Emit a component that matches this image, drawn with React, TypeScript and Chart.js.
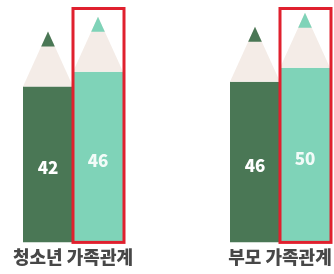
import React, { useEffect, useRef } from 'react';
import { Chart, registerables } from 'chart.js';

Chart.register(...registerables);

const categories = ['청소년 가족관계', '부모 가족관계'];
const seriesDark = [42, 46];
const seriesMint = [46, 50];
const yMaxes = [64, 68];

const DARK = '#4a7755';
const MINT = '#7fd3b8';
const CREAM = '#f4ece7';
const RED = '#e0202e';

const pencilPlugin = {
  id: 'pencil',
  afterDatasetsDraw(chart: any) {
    const ctx = chart.ctx;
    chart.data.datasets.forEach((ds: any, di: number) => {
      const meta = chart.getDatasetMeta(di);
      meta.data.forEach((bar: any, i: number) => {
        const { x, y, base, width } = bar.getProps(['x', 'y', 'base', 'width'], true);
        const tipH = 55;
        const nib = 15;
        ctx.save();
        ctx.fillStyle = CREAM;
        ctx.beginPath();
        ctx.moveTo(x - width / 2, y);
        ctx.lineTo(x + width / 2, y);
        ctx.lineTo(x, y - tipH);
        ctx.closePath();
        ctx.fill();
        const nw = (width * nib) / tipH / 2;
        ctx.fillStyle = ds.backgroundColor;
        ctx.beginPath();
        ctx.moveTo(x - nw, y - tipH + nib);
        ctx.lineTo(x + nw, y - tipH + nib);
        ctx.lineTo(x, y - tipH);
        ctx.closePath();
        ctx.fill();
        ctx.fillStyle = di === 0 ? '#ffffff' : '#f2fbf8';
        ctx.font = '900 17px "Noto Sans CJK KR", "Noto Sans", sans-serif';
        ctx.textAlign = 'center';
        ctx.textBaseline = 'middle';
        ctx.fillText(String(ds.data[i]), x, (y + base) / 2 + 3);
        if (di === 1) {
          ctx.strokeStyle = RED;
          ctx.lineWidth = 3;
          ctx.strokeRect(x - width / 2, 8.5, width + 1, base - 8.5);
        }
        ctx.restore();
      });
    });
  },
};

function PencilChart({ index, padLeft, padRight }: { index: number; padLeft: number; padRight: number }) {
  const ref = useRef<HTMLCanvasElement>(null);
  useEffect(() => {
    const canvas = ref.current!;
    const areaW = canvas.width - padLeft - padRight;
    const chart = new Chart(canvas, {
      type: 'bar',
      data: {
        labels: [categories[index]],
        datasets: [
          { data: [seriesDark[index]], backgroundColor: DARK, borderWidth: 0 },
          { data: [seriesMint[index]], backgroundColor: MINT, borderWidth: 0 },
        ],
      },
      options: {
        responsive: false,
        animation: false,
        datasets: { bar: { barPercentage: 1, categoryPercentage: 100 / areaW } },
        layout: { padding: { left: padLeft, right: padRight, top: 5, bottom: 2 } },
        plugins: { legend: { display: false }, tooltip: { enabled: false } },
        scales: {
          x: {
            grid: { display: false, drawTicks: false },
            border: { display: false },
            ticks: {
              color: '#474747',
              padding: 4,
              font: { family: '"Noto Sans CJK KR", sans-serif', size: 18, weight: '900' },
            },
          },
          y: {
            display: false,
            min: 0,
            max: yMaxes[index],
          },
        },
      },
      plugins: [pencilPlugin],
    } as any);
    return () => chart.destroy();
  }, [index, padLeft, padRight]);
  return <canvas ref={ref} width={index === 0 ? 167 : 230} height={274} style={{ display: 'block' }} />;
}

export default function App() {
  return (
    <div style={{ position: 'absolute', left: 0, top: 0, width: 334, height: 274, overflow: 'hidden', background: '#fff' }}>
      <div style={{ position: 'absolute', left: 0, top: 0 }}>
        <PencilChart index={0} padLeft={0} padRight={21} />
      </div>
      <div style={{ position: 'absolute', left: 130, top: 0 }}>
        <PencilChart index={1} padLeft={90} padRight={20} />
      </div>
    </div>
  );
}
